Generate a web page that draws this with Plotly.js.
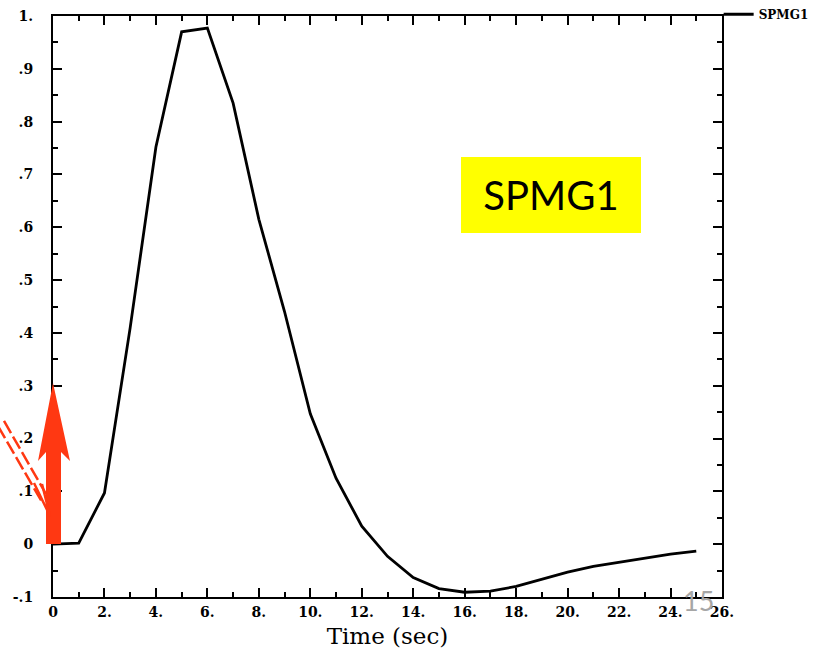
<!DOCTYPE html>
<html>
<head>
<meta charset="utf-8">
<script src="https://cdn.plot.ly/plotly-3.0.1.min.js"></script>
<style>html,body{margin:0;padding:0;background:#fff;}#chart{width:823px;height:649px;}</style>
</head>
<body>
<div id="chart"></div>
<script>
// ---- data ----
const seriesName = "SPMG1";
const timeSec = [0, 1, 2, 3, 4, 5, 6, 7, 8, 9, 10, 11, 12, 13, 14, 15, 16, 17, 18, 19, 20, 21, 22, 23, 24, 25];
const signal = [0, 0.002, 0.097, 0.41, 0.752, 0.970, 0.977, 0.835, 0.615, 0.44, 0.247, 0.125, 0.034, -0.023, -0.063, -0.084, -0.091, -0.089, -0.080, -0.066, -0.053, -0.042, -0.034, -0.027, -0.019, -0.013];
const xTickVals = [0, 2, 4, 6, 8, 10, 12, 14, 16, 18, 20, 22, 24, 26];
const xTickText = ["0", "2.", "4.", "6.", "8.", "10.", "12.", "14.", "16.", "18.", "20.", "22.", "24.", "26."];
const yTickVals = [-0.1, 0, 0.1, 0.2, 0.3, 0.4, 0.5, 0.6, 0.7, 0.8, 0.9, 1.0];
const yTickText = ["-.1", "0", ".1", ".2", ".3", ".4", ".5", ".6", ".7", ".8", ".9", "1."];
const xTitle = "Time (sec)";
const boxLabel = "SPMG1";
const slideNumber = "15";

// ---- layout helpers (pixel -> paper for decorations) ----
const L = 53, R = 101, T = 16, B = 52, W = 823, H = 649;
const pw = W - L - R, ph = H - T - B;
const fx = p => (p - L) / pw;
const fy = p => (H - B - p) / ph;
function path(pts) { return "M" + pts.map(p => fx(p[0]).toFixed(5) + "," + fy(p[1]).toFixed(5)).join("L") + "Z"; }
function openPath(pts) { return "M" + pts.map(p => fx(p[0]).toFixed(5) + "," + fy(p[1]).toFixed(5)).join("L"); }

const tickFont = {family: "DejaVu Serif", size: 14, color: "#000", weight: "bold"};
const red = "#ff3812";

const trace = {
  x: timeSec, y: signal, type: "scatter", mode: "lines", name: seriesName,
  line: {color: "#000", width: 2.8}
};

const axisCommon = {
  showgrid: false, zeroline: false, showline: true, linecolor: "#000", linewidth: 2,
  mirror: "ticks", ticks: "inside", tickcolor: "#000", tickwidth: 2, ticklen: 9,
  tickmode: "array", tickfont: tickFont, automargin: false
};

const layout = {
  width: W, height: H,
  margin: {l: L, r: R, t: T, b: B, autoexpand: false},
  paper_bgcolor: "#fff", plot_bgcolor: "#fff",
  showlegend: true,
  legend: {x: 0.995, xanchor: "left", y: 1.028, yanchor: "top", bgcolor: "rgba(0,0,0,0)",
           font: {family: "DejaVu Serif", size: 12, color: "#000", weight: "bold"}, itemwidth: 30, tracegroupgap: 0},
  xaxis: Object.assign({}, axisCommon, {
    range: [0, 26], tickvals: xTickVals, ticktext: xTickText, ticklabelstandoff: 1,
    minor: {tickmode: "linear", tick0: 0, dtick: 1, ticks: "inside", ticklen: 5, tickwidth: 2, tickcolor: "#000", showgrid: false},
    title: {text: xTitle, font: {family: "DejaVu Serif", size: 23, color: "#000"}, standoff: 10}
  }),
  yaxis: Object.assign({}, axisCommon, {
    range: [-0.1, 1.0], tickvals: yTickVals, ticktext: yTickText, ticklabelstandoff: 15,
    minor: {tickmode: "linear", tick0: 0, dtick: 0.05, ticks: "inside", ticklen: 5, tickwidth: 2, tickcolor: "#000", showgrid: false}
  }),
  shapes: [
    // big red arrow
    {type: "path", xref: "paper", yref: "paper", layer: "above", fillcolor: red, line: {width: 0},
     path: path([[53, 383], [70, 461], [61, 452], [61, 544], [46, 544], [46, 452], [38, 461]])},
    // dashed double line arrow
    {type: "path", xref: "paper", yref: "paper", layer: "above", line: {color: red, width: 2.5, dash: "14px,4px"},
     path: openPath([[-2, 426], [42, 502]])},
    {type: "path", xref: "paper", yref: "paper", layer: "above", line: {color: red, width: 2.5, dash: "14px,4px"},
     path: openPath([[4, 421], [46, 494]])},
    {type: "path", xref: "paper", yref: "paper", layer: "above", line: {color: red, width: 2.5},
     path: openPath([[34, 483], [50, 516], [42, 484]])}
  ],
  annotations: [
    {xref: "paper", yref: "paper", x: fx(551), y: fy(195), xanchor: "center", yanchor: "middle",
     text: boxLabel, showarrow: false, bgcolor: "#ffff00", width: 180, height: 76, borderpad: 0, borderwidth: 0,
     font: {family: "Lato", size: 40, color: "#000"}},
    {xref: "paper", yref: "paper", x: fx(698), y: fy(600), xanchor: "center", yanchor: "middle",
     text: slideNumber, showarrow: false, font: {family: "Lato", size: 27, color: "#a6a6a6"}}
  ]
};

Plotly.newPlot("chart", [trace], layout, {displayModeBar: false, staticPlot: true});
</script>
</body>
</html>
